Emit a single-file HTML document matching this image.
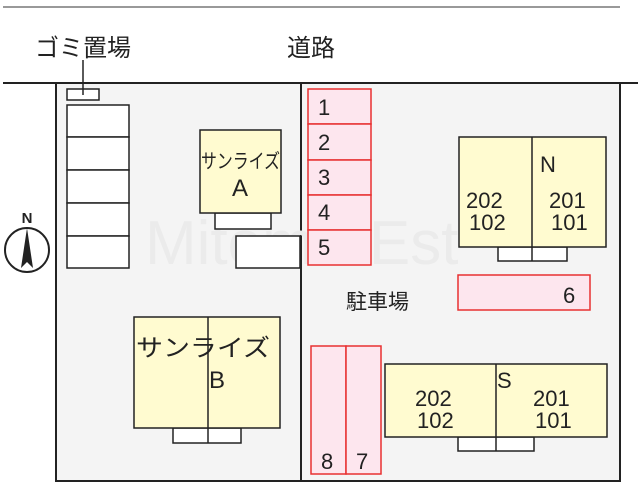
<!DOCTYPE html>
<html><head><meta charset="utf-8"><style>
body{margin:0;background:#fff;}
svg text{font-family:"Liberation Sans","Noto Sans CJK JP",sans-serif;}
</style></head><body>
<svg width="640" height="493" viewBox="0 0 640 493" xmlns="http://www.w3.org/2000/svg">
<line x1="3" y1="7" x2="620" y2="7" stroke="#999" stroke-width="2"/>
<text x="35" y="56" font-size="24" fill="#222">ゴミ置場</text>
<text x="287" y="56" font-size="24" fill="#222">道路</text>
<line x1="3" y1="83" x2="638" y2="83" stroke="#222" stroke-width="2"/>
<rect x="56" y="83" width="245" height="398" fill="#f4f4f4" stroke="#222" stroke-width="2"/>
<rect x="301" y="83" width="319" height="398" fill="#f4f4f4" stroke="#222" stroke-width="2"/>
<text x="145" y="264" font-size="62" fill="#ebebeb">Mitomo-Est</text>
<rect x="67" y="89" width="32" height="11" fill="#fff" stroke="#222" stroke-width="1.5"/>
<line x1="83" y1="60" x2="83" y2="95" stroke="#222" stroke-width="1.5"/>
<g fill="#fff" stroke="#222" stroke-width="1.5">
<rect x="67" y="105" width="62" height="32"/><rect x="67" y="137" width="62" height="33"/><rect x="67" y="170" width="62" height="33"/><rect x="67" y="203" width="62" height="33"/><rect x="67" y="236" width="62" height="32"/>
<rect x="215" y="213" width="56" height="16"/>
<rect x="236" y="236" width="64" height="32"/>
<rect x="498" y="247" width="69" height="14"/>
<rect x="458" y="437" width="76" height="14"/>
<rect x="173" y="428" width="68" height="15"/>
</g>
<g fill="#fffbd0" stroke="#222" stroke-width="1.5">
<rect x="200" y="130" width="81" height="83"/>
<rect x="459" y="137" width="147" height="110"/>
<rect x="385" y="364" width="222" height="73"/>
<rect x="134" y="317" width="146" height="111"/>
</g>
<g stroke="#222" stroke-width="1.5">
<line x1="532" y1="137" x2="532" y2="261"/>
<line x1="496" y1="364" x2="496" y2="451"/>
<line x1="208" y1="317" x2="208" y2="443"/>
</g>
<g fill="#fde6ee" stroke="#e83030" stroke-width="1.5">
<rect x="308" y="89" width="63" height="35"/><rect x="308" y="124" width="63" height="36"/><rect x="308" y="160" width="63" height="35"/><rect x="308" y="195" width="63" height="35"/><rect x="308" y="230" width="63" height="35"/>
<rect x="458" y="275" width="132" height="35"/>
<rect x="311" y="346" width="35" height="128"/><rect x="346" y="346" width="35" height="128"/>
</g>
<g font-size="22" fill="#222">
<text x="318" y="115">1</text><text x="318" y="150">2</text><text x="318" y="185">3</text><text x="318" y="220">4</text><text x="318" y="255">5</text>
<text x="563" y="303">6</text><text x="321" y="469">8</text><text x="356" y="469">7</text>
<text x="540" y="172">N</text>
<text x="466" y="208">202</text><text x="469" y="230">102</text>
<text x="549" y="208">201</text><text x="551" y="230">101</text>
<text x="497" y="388">S</text>
<text x="415" y="406">202</text><text x="417" y="428">102</text>
<text x="533" y="406">201</text><text x="535" y="428">101</text>
<text x="232" y="196" font-size="24">A</text><text x="209" y="388" font-size="24">B</text>
</g>
<text x="201" y="168" font-size="20" fill="#222" textLength="79" lengthAdjust="spacingAndGlyphs">サンライズ</text>
<text x="136" y="356" font-size="24" fill="#222" textLength="134" lengthAdjust="spacingAndGlyphs">サンライズ</text>
<text x="346" y="309" font-size="21" fill="#222">駐車場</text>
<text x="27" y="223" font-size="15" font-weight="bold" fill="#222" text-anchor="middle">N</text>
<circle cx="27" cy="250" r="22" fill="#fff" stroke="#222" stroke-width="2"/>
<polygon points="27,228 21,268 27,262 33,268" fill="#222"/>
</svg>
</body></html>
